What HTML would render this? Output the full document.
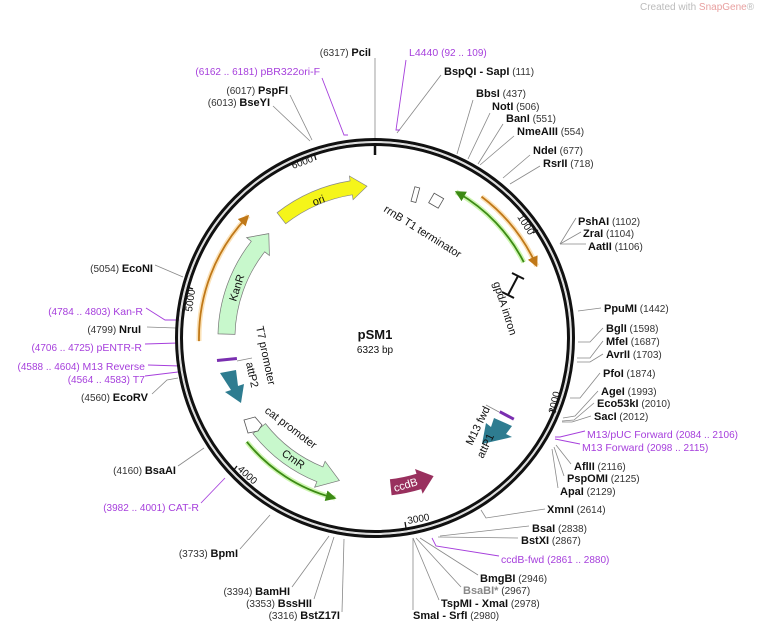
<!DOCTYPE html>
<html><head><meta charset="utf-8"><style>
html,body{margin:0;padding:0;background:#fff;width:760px;height:623px;overflow:hidden}
svg{display:block}
text{font-family:"Liberation Sans","DejaVu Sans",sans-serif;font-size:10.5px;fill:#111}
.b{font-weight:bold;font-size:11px}
.n{fill:#333;font-size:10px}
.p{fill:#a63fdc}
.l{stroke:#888;stroke-width:0.8;fill:none}
.lp{stroke:#a63fdc;stroke-width:0.9;fill:none}
.f{font-size:10px;fill:#111}
</style></head><body>
<svg width="760" height="623" viewBox="0 0 760 623" xmlns="http://www.w3.org/2000/svg">
<defs>
<marker id="ao" markerWidth="6" markerHeight="6" refX="4" refY="3" orient="auto"><path d="M0,0 L6,3 L0,6 Z" fill="#c07818"/></marker>
<marker id="ag" markerWidth="6" markerHeight="6" refX="4" refY="3" orient="auto"><path d="M0,0 L6,3 L0,6 Z" fill="#3c8a14"/></marker>
</defs>
<text x="640" y="10" style="font-size:10px;fill:#bbb">Created with <tspan fill="#e8a0a0">SnapGene</tspan>®</text>

<g class="l">
<path d="M375,58 L375,138"/>
<path d="M441,75 L397,133"/>
<path d="M290,95 L312,140"/>
<path d="M273,106 L310,141"/>
<path d="M473,100 L457,154"/>
<path d="M490,113 L468,159"/>
<path d="M503,124 L478,164"/>
<path d="M514,136 L480,165"/>
<path d="M530,155 L503,178"/>
<path d="M540,166 L510,184"/>
<path d="M576,218 L560,244"/><path d="M581,232 L560,244"/><path d="M586,244 L560,244"/>
<path d="M601,308 L578,311"/>
<path d="M603,328 L590,342 L578,342"/><path d="M603,341 L590,358 L577,358"/><path d="M603,354 L590,362 L577,362"/>
<path d="M600,373 L580,398 L570,398"/>
<path d="M598,391 L575,416 L563,418"/><path d="M594,403 L574,420 L562,421"/><path d="M591,416 L572,422 L562,422"/>
<path d="M571,464 L556,445"/><path d="M564,476 L554,447"/><path d="M558,488 L552,449"/>
<path d="M545,509 L486,518 L481,510"/>
<path d="M529,526 L440,536"/><path d="M518,538 L438,537"/>
<path d="M478,575 L420,538"/><path d="M461,587 L416,538"/><path d="M439,600 L413,538"/><path d="M413,610 L413,538"/>
<path d="M292,587 L329,536"/><path d="M314,599 L334,537"/><path d="M342,612 L344,539"/>
<path d="M240,549 L270,515"/>
<path d="M178,466 L204,448"/>
<path d="M152,394 L167,380 L178,378"/>
<path d="M147,327 L176,328"/>
<path d="M155,265 L183,277"/>
</g>
<g class="lp">
<path d="M406,60 L396,130 L400,130"/>
<path d="M322,78 L344,135 L348,135"/>
<path d="M585,431 L560,437 L555,437"/><path d="M580,444 L560,440 L555,439"/>
<path d="M499,556 L436,546 L432,538"/>
<path d="M201,503 L225,478"/>
<path d="M145,376 L178,372"/><path d="M148,365 L180,366"/>
<path d="M145,344 L178,343"/>
<path d="M146,308 L165,320 L180,320"/>
</g>

<circle cx="375" cy="338" r="198.5" fill="none" stroke="#111" stroke-width="3"/>
<circle cx="375" cy="338" r="193.5" fill="none" stroke="#111" stroke-width="3"/>
<circle cx="375" cy="338" r="196" fill="none" stroke="#ddd" stroke-width="1.5"/>
<line x1="375" y1="143" x2="375" y2="155" stroke="#111" stroke-width="2.5"/>

<g stroke="#111" stroke-width="1.3">
<line x1="314" y1="153" x2="316" y2="160"/>
<line x1="538" y1="230" x2="533" y2="233"/>
<line x1="556" y1="412" x2="550" y2="410"/>
<line x1="406" y1="528" x2="405" y2="522"/>
<line x1="233" y1="471" x2="237" y2="466"/>
<line x1="187" y1="287" x2="193" y2="289"/>
</g>
<text transform="translate(293,169) rotate(-20)" class="f">6000</text>
<text transform="translate(517,217) rotate(57)" class="f">1000</text>
<text transform="translate(555,414) rotate(-77)" class="f">2000</text>
<text transform="translate(408,524) rotate(-10)" class="f">3000</text>
<text transform="translate(237,470) rotate(42)" class="f">4000</text>
<text transform="translate(192,312) rotate(-82)" class="f">5000</text>

<path d="M523.8,262.2 A167 167 0 0 0 456,191.9" fill="none" stroke="#cdf5b0" stroke-width="5"/>
<path d="M523.8,262.2 A167 167 0 0 0 458,192.9" fill="none" stroke="#3c8a14" stroke-width="1.8" marker-end="url(#ag)"/>
<path d="M481.5,196.6 A177 177 0 0 1 536.7,266" fill="none" stroke="#fbe2b8" stroke-width="5"/>
<path d="M481.5,196.6 A177 177 0 0 1 535.7,264" fill="none" stroke="#c07818" stroke-width="1.8" marker-end="url(#ao)"/>
<path d="M199,341.1 A176 176 0 0 1 248.4,215.7" fill="none" stroke="#fbe2b8" stroke-width="5"/>
<path d="M199,341.1 A176 176 0 0 1 246.6,217.5" fill="none" stroke="#c07818" stroke-width="1.8" marker-end="url(#ao)"/>
<path d="M246.8,441.8 A165 165 0 0 0 335.1,498.1" fill="none" stroke="#cdf5b0" stroke-width="5"/>
<path d="M246.8,441.8 A165 165 0 0 0 333,497.6" fill="none" stroke="#3c8a14" stroke-width="1.8" marker-end="url(#ag)"/>

<path d="M277.1,212.7 A159 159 0 0 1 350.1,180.9 L349.4,176 L367,186.2 L353.1,199.7 L352.3,194.8 A145 145 0 0 0 285.7,223.7 Z" fill="#f5f51a" stroke="#888" stroke-width="0.7"/>
<text transform="translate(314,206) rotate(-20)" style="font-size:11px">ori</text>
<path d="M218,333.9 A157 157 0 0 1 251.3,241.3 L246.6,237.6 L268.8,233.6 L269.4,255.5 L264.7,251.8 A140 140 0 0 0 235,334.4 Z" fill="#c8f8cc" stroke="#777" stroke-width="0.7"/>
<text transform="translate(236,302) rotate(-72)" style="font-size:11px">KanR</text>
<path d="M252.9,433.5 A155 155 0 0 0 316.9,481.7 L314.6,487.2 L339.4,480.6 L325.1,461.3 L322.9,466.9 A139 139 0 0 1 265.5,423.6 Z" fill="#c8f8cc" stroke="#777" stroke-width="0.7"/>
<text transform="translate(281,455) rotate(35)" style="font-size:11px">CmR</text>
<path d="M391.6,495.2 A158 158 0 0 0 421.2,489.1 L422.6,493.8 L433.6,476.1 L415,469 L416.5,473.8 A142 142 0 0 1 389.9,479.3 Z" fill="#99305e"/>
<text transform="translate(395,492) rotate(-17)" style="font-size:11px;fill:#fff">ccdB</text>
<path d="M220,373 L236,370 L238,386 L244,384 L241,403 L225,392 L231,390 Z" fill="#2e7c90"/>
<rect x="217" y="358" width="20" height="3" fill="#7a2fb0" transform="rotate(-6 227 360)"/>
<line x1="237" y1="361" x2="252" y2="358" class="l"/>
<path d="M494,418 L512,426 L506,434 L512,437 L482,444 L486,423 L491,427 Z" fill="#2e7c90"/>
<rect x="499" y="414" width="16" height="3" fill="#7a2fb0" transform="rotate(28 507 415)"/>
<line x1="486" y1="405" x2="499" y2="412" class="l"/>
<path d="M244,420 L255,417 L262,425 L258,431 L248,433 Z" fill="#fff" stroke="#555" stroke-width="0.8"/>
<rect x="413" y="187" width="5" height="15" fill="#fff" stroke="#555" stroke-width="0.8" transform="rotate(15 415 194)"/>
<rect x="431" y="195" width="11" height="11" fill="#fff" stroke="#555" stroke-width="0.8" transform="rotate(30 436 200)"/>
<text transform="translate(383,211) rotate(32)" style="font-size:11px">rrnB T1 terminator</text>
<g stroke="#111" stroke-width="2"><line x1="518" y1="276" x2="508" y2="295"/><line x1="512" y1="273" x2="524" y2="279"/><line x1="502" y1="292" x2="514" y2="298"/></g>
<text transform="translate(493,283) rotate(72)" style="font-size:11px">gpdA intron</text>
<text transform="translate(256,327) rotate(78)" style="font-size:11px">T7 promoter</text>
<text transform="translate(246,363) rotate(78)" style="font-size:11px">attP2</text>
<text transform="translate(264,412) rotate(37)" style="font-size:11px">cat promoter</text>
<text transform="translate(472,446) rotate(-64)" style="font-size:11px">M13 fwd</text>
<text transform="translate(483,459) rotate(-64)" style="font-size:11px">attP1</text>

<text x="375" y="339" text-anchor="middle" style="font-weight:bold;font-size:13px">pSM1</text>
<text x="375" y="353" text-anchor="middle" style="font-size:10px">6323 bp</text>

<g>
<text x="409" y="56" class="p">L4440 <tspan class="p" style="font-size:10px">(92 .. 109)</tspan></text>
<text x="444" y="75"><tspan class="b">BspQI</tspan><tspan class="b"> - SapI</tspan><tspan class="n">  (111)</tspan></text>
<text x="476" y="97"><tspan class="b">BbsI</tspan><tspan class="n">  (437)</tspan></text>
<text x="492" y="110"><tspan class="b">NotI</tspan><tspan class="n">  (506)</tspan></text>
<text x="506" y="122"><tspan class="b">BanI</tspan><tspan class="n">  (551)</tspan></text>
<text x="517" y="135"><tspan class="b">NmeAIII</tspan><tspan class="n">  (554)</tspan></text>
<text x="533" y="154"><tspan class="b">NdeI</tspan><tspan class="n">  (677)</tspan></text>
<text x="543" y="167"><tspan class="b">RsrII</tspan><tspan class="n">  (718)</tspan></text>
<text x="578" y="225"><tspan class="b">PshAI</tspan><tspan class="n">  (1102)</tspan></text>
<text x="583" y="237"><tspan class="b">ZraI</tspan><tspan class="n">  (1104)</tspan></text>
<text x="588" y="250"><tspan class="b">AatII</tspan><tspan class="n">  (1106)</tspan></text>
<text x="604" y="312"><tspan class="b">PpuMI</tspan><tspan class="n">  (1442)</tspan></text>
<text x="606" y="332"><tspan class="b">BglI</tspan><tspan class="n">  (1598)</tspan></text>
<text x="606" y="345"><tspan class="b">MfeI</tspan><tspan class="n">  (1687)</tspan></text>
<text x="606" y="358"><tspan class="b">AvrII</tspan><tspan class="n">  (1703)</tspan></text>
<text x="603" y="377"><tspan class="b">PfoI</tspan><tspan class="n">  (1874)</tspan></text>
<text x="601" y="395"><tspan class="b">AgeI</tspan><tspan class="n">  (1993)</tspan></text>
<text x="597" y="407"><tspan class="b">Eco53kI</tspan><tspan class="n">  (2010)</tspan></text>
<text x="594" y="420"><tspan class="b">SacI</tspan><tspan class="n">  (2012)</tspan></text>
<text x="587" y="438" class="p">M13/pUC Forward <tspan class="p" style="font-size:10px"> (2084 .. 2106)</tspan></text>
<text x="582" y="451" class="p">M13 Forward <tspan class="p" style="font-size:10px"> (2098 .. 2115)</tspan></text>
<text x="574" y="470"><tspan class="b">AflII</tspan><tspan class="n">  (2116)</tspan></text>
<text x="567" y="482"><tspan class="b">PspOMI</tspan><tspan class="n">  (2125)</tspan></text>
<text x="560" y="495"><tspan class="b">ApaI</tspan><tspan class="n">  (2129)</tspan></text>
<text x="547" y="513"><tspan class="b">XmnI</tspan><tspan class="n">  (2614)</tspan></text>
<text x="532" y="532"><tspan class="b">BsaI</tspan><tspan class="n">  (2838)</tspan></text>
<text x="521" y="544"><tspan class="b">BstXI</tspan><tspan class="n">  (2867)</tspan></text>
<text x="501" y="563" class="p">ccdB-fwd <tspan class="p" style="font-size:10px"> (2861 .. 2880)</tspan></text>
<text x="480" y="582"><tspan class="b">BmgBI</tspan><tspan class="n">  (2946)</tspan></text>
<text x="463" y="594"><tspan class="b" style="fill:#888">BsaBI*</tspan><tspan class="n"> (2967)</tspan></text>
<text x="441" y="607"><tspan class="b">TspMI</tspan><tspan class="b"> - XmaI</tspan><tspan class="n">  (2978)</tspan></text>
<text x="413" y="619"><tspan class="b">SmaI</tspan><tspan class="b"> - SrfI</tspan><tspan class="n">  (2980)</tspan></text>
</g>
<g text-anchor="end">
<text x="371" y="56"><tspan class="n">(6317)  </tspan><tspan class="b">PciI</tspan></text>
<text x="320" y="75" class="p"><tspan class="p" style="font-size:10px">(6162 .. 6181)  </tspan>pBR322ori-F</text>
<text x="288" y="94"><tspan class="n">(6017)  </tspan><tspan class="b">PspFI</tspan></text>
<text x="270" y="106"><tspan class="n">(6013)  </tspan><tspan class="b">BseYI</tspan></text>
<text x="153" y="272"><tspan class="n">(5054)  </tspan><tspan class="b">EcoNI</tspan></text>
<text x="143" y="315" class="p"><tspan class="p" style="font-size:10px">(4784 .. 4803)  </tspan>Kan-R</text>
<text x="141" y="333"><tspan class="n">(4799)  </tspan><tspan class="b">NruI</tspan></text>
<text x="142" y="351" class="p"><tspan class="p" style="font-size:10px">(4706 .. 4725)  </tspan>pENTR-R</text>
<text x="145" y="370" class="p"><tspan class="p" style="font-size:10px">(4588 .. 4604)  </tspan>M13 Reverse</text>
<text x="145" y="383" class="p"><tspan class="p" style="font-size:10px">(4564 .. 4583)  </tspan>T7</text>
<text x="148" y="401"><tspan class="n">(4560)  </tspan><tspan class="b">EcoRV</tspan></text>
<text x="176" y="474"><tspan class="n">(4160)  </tspan><tspan class="b">BsaAI</tspan></text>
<text x="199" y="511" class="p"><tspan class="p" style="font-size:10px">(3982 .. 4001)  </tspan>CAT-R</text>
<text x="238" y="557"><tspan class="n">(3733)  </tspan><tspan class="b">BpmI</tspan></text>
<text x="290" y="595"><tspan class="n">(3394)  </tspan><tspan class="b">BamHI</tspan></text>
<text x="312" y="607"><tspan class="n">(3353)  </tspan><tspan class="b">BssHII</tspan></text>
<text x="340" y="619"><tspan class="n">(3316)  </tspan><tspan class="b">BstZ17I</tspan></text>
</g>
</svg>
</body></html>
